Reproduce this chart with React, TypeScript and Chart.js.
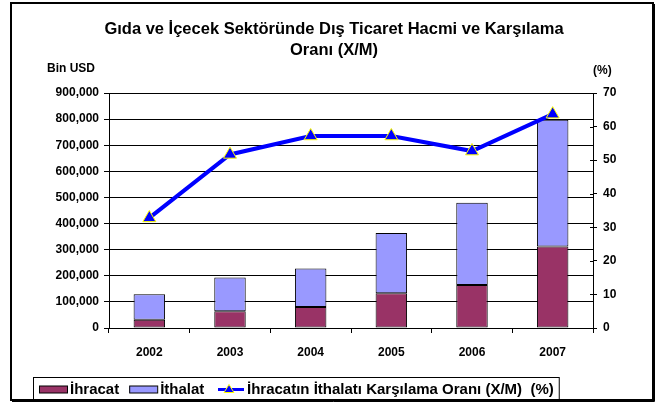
import React, { useEffect, useRef } from "react";
import { Chart, registerables } from "chart.js";

Chart.register(...registerables);

const categories = ["2002", "2003", "2004", "2005", "2006", "2007"];
const ihracat = [32000, 64000, 80000, 133000, 165000, 312000];
const ithalat = [97000, 129000, 148000, 231000, 315000, 486000];
const oran = [32.8, 51.7, 57.2, 57.2, 52.7, 63.7];
const titleLines = ["Gıda ve İçecek Sektöründe Dış Ticaret Hacmi ve Karşılama", "Oranı (X/M)"];
const leftAxisTitle = "Bin USD";
const rightAxisTitle = "(%)";
const seriesNames = ["İhracat", "İthalat", "İhracatın İthalatı Karşılama Oranı (X/M)  (%)"];

const FONT = "'Liberation Sans', Arial, sans-serif";

const decor = {
  id: "decor",
  beforeDraw(chart: any) {
    const ctx = chart.ctx;
    ctx.save();
    ctx.fillStyle = "#fff";
    ctx.fillRect(0, 0, chart.width, chart.height);
    ctx.restore();
  },
  afterDraw(chart: any) {
    const ctx = chart.ctx;
    ctx.save();

    // inward tick marks on right axis
    const y1 = chart.scales.y1;
    ctx.strokeStyle = "#000";
    ctx.lineWidth = 1;
    ctx.beginPath();
    y1.ticks.forEach((t: any) => {
      const py = Math.round(y1.getPixelForValue(t.value)) + 0.5;
      ctx.moveTo(y1.left - 3, py);
      ctx.lineTo(y1.left, py);
    });
    ctx.stroke();

    // frame
    ctx.strokeStyle = "#000";
    ctx.lineWidth = 2;
    ctx.strokeRect(11, 3, 642, 397);
    ctx.lineWidth = 1;
    ctx.beginPath();
    ctx.moveTo(654.5, 4);
    ctx.lineTo(654.5, 401.5);
    ctx.lineTo(12, 401.5);
    ctx.stroke();

    // title
    ctx.fillStyle = "#000";
    ctx.font = `bold 16.5px ${FONT}`;
    ctx.textAlign = "center";
    ctx.textBaseline = "middle";
    ctx.fillText(titleLines[0], 334, 29);
    ctx.fillText(titleLines[1], 334, 50);

    // axis titles
    ctx.font = `bold 12px ${FONT}`;
    ctx.textAlign = "left";
    ctx.fillText(leftAxisTitle, 47, 69);
    ctx.fillText(rightAxisTitle, 593, 71);

    // legend
    const lx = 33, ly = 377, lh = 23;
    ctx.font = `bold 15px ${FONT}`;
    ctx.textBaseline = "middle";
    const cy = ly + lh / 2 + 1;
    let x = 39;
    const cols = ["#993366", "#9999FF"];
    for (let i = 0; i < 2; i++) {
      ctx.fillStyle = cols[i];
      ctx.fillRect(x, cy - 3.5, 28, 7);
      ctx.strokeStyle = "#000";
      ctx.lineWidth = 1;
      ctx.strokeRect(x + 0.5, cy - 3.5, 28, 7);
      x += 31;
      ctx.fillStyle = "#000";
      ctx.fillText(seriesNames[i], x, cy);
      x += ctx.measureText(seriesNames[i]).width + 10;
    }
    // line legend
    x = Math.max(x, 218);
    ctx.strokeStyle = "#0000FF";
    ctx.lineWidth = 3;
    ctx.beginPath();
    ctx.moveTo(x, cy);
    ctx.lineTo(x + 26, cy);
    ctx.stroke();
    const tx = x + 11;
    ctx.fillStyle = "#0000FF";
    ctx.strokeStyle = "#FFFF00";
    ctx.lineWidth = 1;
    ctx.beginPath();
    ctx.moveTo(tx, cy - 5);
    ctx.lineTo(tx + 5, cy + 3);
    ctx.lineTo(tx - 5, cy + 3);
    ctx.closePath();
    ctx.fill();
    ctx.stroke();
    x += 29;
    ctx.fillStyle = "#000";
    ctx.fillText(seriesNames[2], x, cy);
    const right = x + ctx.measureText(seriesNames[2]).width + 5;
    ctx.strokeStyle = "#000";
    ctx.lineWidth = 1;
    ctx.strokeRect(lx + 0.5, ly + 0.5, right - lx, lh);
    ctx.restore();
  },
};

export default function App() {
  const ref = useRef<HTMLCanvasElement | null>(null);
  useEffect(() => {
    document.body.style.margin = "0";
    const canvas = ref.current!;
    const chart = new Chart(canvas, {
      type: "bar",
      data: {
        labels: categories,
        datasets: [
          {
            type: "line",
            label: seriesNames[2],
            data: oran,
            yAxisID: "y1",
            borderColor: "#0000FF",
            borderWidth: 4,
            pointStyle: "triangle",
            pointRadius: 7.5,
            pointBackgroundColor: "#0000FF",
            pointBorderColor: "#FFFF00",
            pointBorderWidth: 1,
            order: 0,
          } as any,
          {
            label: seriesNames[0],
            data: ihracat,
            backgroundColor: "#993366",
            borderColor: "#000",
            borderWidth: 1,
            borderSkipped: false,
            yAxisID: "y",
            order: 1,
            barPercentage: 0.39,
            categoryPercentage: 1,
          },
          {
            label: seriesNames[1],
            data: ithalat,
            backgroundColor: "#9999FF",
            borderColor: "#000",
            borderWidth: 1,
            borderSkipped: false,
            yAxisID: "y",
            order: 1,
            barPercentage: 0.39,
            categoryPercentage: 1,
          },
        ],
      },
      options: {
        responsive: false,
        animation: false,
        layout: { padding: { left: 0, right: 0, top: 93, bottom: 0 } },
        plugins: {
          legend: { display: false },
          title: { display: false },
          tooltip: { enabled: false },
        },
        scales: {
          x: {
            stacked: true,
            offset: true,
            afterFit: (s: any) => { s.height = 77; },
            grid: {
              offset: true,
              drawOnChartArea: false,
              drawTicks: true,
              tickLength: 5,
              color: "#000",
            },
            border: { color: "#000", width: 1 },
            ticks: {
              color: "#000",
              padding: 12,
              font: { family: FONT, size: 12, weight: "bold" },
            },
          },
          y: {
            stacked: true,
            position: "left",
            min: 0,
            max: 900000,
            afterFit: (s: any) => { s.width = 109; },
            grid: { color: "#000", lineWidth: 1, tickLength: 5 },
            border: { color: "#000", width: 1 },
            ticks: {
              stepSize: 100000,
              color: "#000",
              padding: 5,
              font: { family: FONT, size: 12, weight: "bold" },
              callback: (v: any) => Number(v).toLocaleString("en-US"),
            },
          },
          y1: {
            position: "right",
            min: 0,
            max: 70,
            afterFit: (s: any) => { s.width = 64; },
            grid: { drawOnChartArea: false, color: "#000", tickLength: 4 },
            border: { color: "#000", width: 1 },
            ticks: {
              stepSize: 10,
              color: "#000",
              padding: 6,
              font: { family: FONT, size: 12, weight: "bold" },
            },
          },
        },
      },
      plugins: [decor],
    });
    return () => chart.destroy();
  }, []);
  return (
    <div style={{ width: 657, height: 405 }}>
      <canvas ref={ref} width={657} height={405} style={{ display: "block" }} />
    </div>
  );
}
